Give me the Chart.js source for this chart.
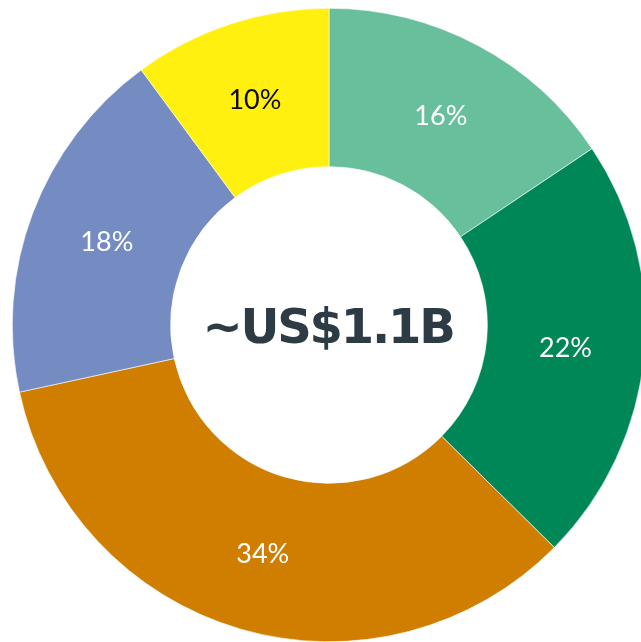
<!DOCTYPE html>
<html>
<head>
<meta charset="utf-8">
<script src="https://cdn.jsdelivr.net/npm/chart.js@4"></script>
<style>
  html, body { margin: 0; padding: 0; background: #fff; overflow: hidden; }
  body { width: 641px; height: 642px; position: relative; }
  #donut { position: absolute; left: 12px; top: 8px; }
</style>
</head>
<body>
<canvas id="donut" width="634" height="634"></canvas>
<script>
// ── Data ─────────────────────────────────────────────────────────────────────
const segments   = ['A', 'B', 'C', 'D', 'E'];
const shares     = [15.6, 21.8, 34.2, 18.3, 10.1];
const shareText  = ['16%', '22%', '34%', '18%', '10%'];
const fills      = ['#68bf9c', '#008757', '#cf7e00', '#758cc3', '#fff010'];
const labelInk   = ['#ffffff', '#ffffff', '#ffffff', '#ffffff', '#0a0a0a'];
const centerText = '~US$1.1B';

// ── Labels + centre total ───────────────────────────────────────────────────
const donutText = {
  id: 'donutText',
  afterDatasetsDraw(chart) {
    const ctx = chart.ctx;
    const arcs = chart.getDatasetMeta(0).data;
    ctx.save();
    ctx.textAlign = 'center';
    ctx.textBaseline = 'middle';
    ctx.font = '27px Lato';
    arcs.forEach((arc, i) => {
      const p = arc.getCenterPoint();
      ctx.fillStyle = labelInk[i];
      ctx.fillText(shareText[i], p.x, p.y + 1);
    });
    const c = arcs[0];
    ctx.font = 'bold 48px "DejaVu Sans"';
    ctx.letterSpacing = '-2.2px';
    ctx.textBaseline = 'alphabetic';
    ctx.fillStyle = '#2d3b45';
    ctx.fillText(centerText, c.x - 1, c.y + 18);
    ctx.restore();
  }
};

new Chart(document.getElementById('donut').getContext('2d'), {
  type: 'doughnut',
  data: {
    labels: segments,
    datasets: [{
      data: shares,
      backgroundColor: fills,
      borderColor: '#ffffff',
      borderWidth: 0.6
    }]
  },
  options: {
    responsive: false,
    animation: false,
    cutout: '50%',
    layout: { padding: 0 },
    plugins: { legend: { display: false }, tooltip: { enabled: false } }
  },
  plugins: [donutText]
});
</script>
</body>
</html>
